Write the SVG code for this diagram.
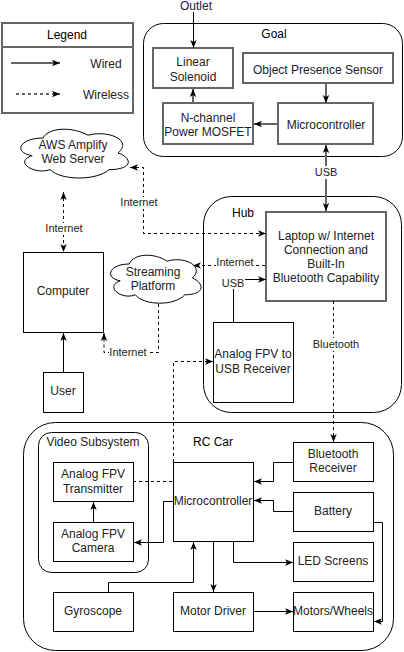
<svg xmlns="http://www.w3.org/2000/svg" width="404" height="652" viewBox="0 0 404 652">
<style>
text{font-family:"Liberation Sans",Arial,sans-serif;font-size:12px;text-anchor:middle;fill:#222}
.t{fill:#000}
.lbl{font-size:11px}
.b{fill:#fff;stroke:#000;stroke-width:1}
.g{fill:#fff;stroke:#666;stroke-width:2}
.c{fill:#fff;stroke:#000;stroke-width:1}
.w{fill:none;stroke:#000;stroke-width:1}
.wg{fill:none;stroke:#666;stroke-width:2}
.d{fill:none;stroke:#000;stroke-width:1;stroke-dasharray:3 3}
.lb{fill:#fff}
</style>
<defs>
<marker id="ah" viewBox="0 0 10 10" refX="10" refY="5" markerWidth="8" markerHeight="8" markerUnits="userSpaceOnUse" orient="auto-start-reverse">
<path d="M0,1 L10,5 L0,9 L2.5,5 z" fill="#000"/>
</marker>
</defs>

<g id="legend">
<rect x="2" y="23" width="131" height="90" class="g"/>
<line x1="2" y1="47" x2="133" y2="47" stroke="#666" stroke-width="2"/>
<text x="67" y="39" class="t">Legend</text>
<line x1="11" y1="63" x2="60" y2="63" class="wg" marker-end="url(#ah)"/>
<text x="106" y="68">Wired</text>
<line x1="16" y1="94" x2="60" y2="94" class="wg" stroke-dasharray="3 3" marker-end="url(#ah)"/>
<text x="106" y="99">Wireless</text>
</g>

<g id="goal">
<rect x="143.5" y="23.5" width="259" height="133" rx="20" class="c"/>
<text x="274" y="38" class="t">Goal</text>
</g>
<g id="linear-solenoid">
<rect x="153" y="48" width="80" height="40" class="g"/>
<text x="193" y="66">Linear</text>
<text x="193" y="81">Solenoid</text>
</g>
<g id="object-presence-sensor">
<rect x="243" y="53" width="150" height="30" class="g"/>
<text x="318" y="74">Object Presence Sensor</text>
</g>
<g id="mosfet">
<rect x="163" y="103" width="90" height="41" class="g"/>
<text x="208" y="122">N-channel</text>
<text x="208" y="136">Power MOSFET</text>
</g>
<g id="goal-microcontroller">
<rect x="278" y="103" width="95" height="41" class="g"/>
<text x="326" y="129">Microcontroller</text>
</g>
<g id="outlet">
<text x="196" y="10">Outlet</text>
</g>

<g id="hub">
<rect x="203.5" y="196.5" width="198" height="216" rx="28" class="c"/>
<text x="243" y="217" class="t">Hub</text>
</g>
<g id="laptop">
<rect x="266" y="212" width="120" height="89" class="g"/>
<text x="326" y="240">Laptop w/ Internet</text>
<text x="326" y="254">Connection and</text>
<text x="326" y="268">Built-In</text>
<text x="326" y="282">Bluetooth Capability</text>
</g>
<g id="usb-receiver">
<rect x="213.5" y="322.5" width="80" height="80" class="b"/>
<text x="253" y="358">Analog FPV to</text>
<text x="253" y="373">USB Receiver</text>
</g>

<g id="aws">
<path d="M43,138 C19,138 13,152.8 32.2,155.6 C13,161.8 34.6,175.2 50.2,169.6 C61,180.8 97,180.8 109,169.6 C133,169.6 133,158.4 118,152.8 C133,140.8 109,129.6 88,135.2 C73,126.8 49,126.8 43,138 Z" class="c"/>
<text x="73" y="149">AWS Amplify</text>
<text x="73" y="163">Web Server</text>
</g>
<g id="streaming">
<path d="M129.2,264 C109,264 104,278 120.2,280.8 C104,287 122.2,300.4 135.3,294.8 C144.4,306 174.7,306 184.8,294.8 C205,294.8 205,283.6 192.4,278 C205,266.8 184.8,255.6 167.1,261.2 C154.5,252.8 134.3,252.8 129.2,264 Z" class="c"/>
<text x="153" y="276">Streaming</text>
<text x="153" y="290">Platform</text>
</g>
<g id="computer">
<rect x="23.5" y="252.5" width="80" height="80" class="b"/>
<text x="63" y="295">Computer</text>
</g>
<g id="user">
<rect x="43.5" y="372.5" width="40" height="40" class="b"/>
<text x="63" y="395">User</text>
</g>

<g id="rc-car">
<rect x="23.5" y="422.5" width="370" height="228" rx="32" class="c"/>
<text x="213" y="446" class="t">RC Car</text>
</g>
<g id="video-subsystem">
<rect x="38.5" y="432.5" width="110" height="140" rx="13" class="c"/>
<text x="93" y="446">Video Subsystem</text>
</g>
<g id="fpv-transmitter">
<rect x="53.5" y="462.5" width="80" height="39" class="b"/>
<text x="93" y="478">Analog FPV</text>
<text x="93" y="493">Transmitter</text>
</g>
<g id="fpv-camera">
<rect x="53.5" y="522.5" width="80" height="39" class="b"/>
<text x="93" y="538">Analog FPV</text>
<text x="93" y="552">Camera</text>
</g>
<g id="rc-microcontroller">
<rect x="173.5" y="462.5" width="80" height="79" class="b"/>
<text x="213" y="505">Microcontroller</text>
</g>
<g id="gyroscope">
<rect x="53.5" y="592.5" width="80" height="39" class="b"/>
<text x="93" y="615">Gyroscope</text>
</g>
<g id="motor-driver">
<rect x="173.5" y="592.5" width="80" height="39" class="b"/>
<text x="213" y="615">Motor Driver</text>
</g>
<g id="bluetooth-receiver">
<rect x="293.5" y="442.5" width="80" height="39" class="b"/>
<text x="333" y="458">Bluetooth</text>
<text x="333" y="472">Receiver</text>
</g>
<g id="battery">
<rect x="293.5" y="492.5" width="80" height="39" class="b"/>
<text x="333" y="515">Battery</text>
</g>
<g id="led-screens">
<rect x="293.5" y="542.5" width="80" height="39" class="b"/>
<text x="333" y="565">LED Screens</text>
</g>
<g id="motors-wheels">
<rect x="293.5" y="592.5" width="80" height="39" class="b"/>
<text x="333" y="615">Motors/Wheels</text>
</g>

<g id="connectors">
<path d="M193.5,12 V48" class="w" marker-end="url(#ah)"/>
<path d="M193,103 V89" class="wg" marker-end="url(#ah)"/>
<path d="M326,84 V103" class="wg" marker-end="url(#ah)"/>
<path d="M277,124 H254" class="wg" marker-end="url(#ah)"/>
<path d="M326,211 V145" class="wg" marker-start="url(#ah)" marker-end="url(#ah)"/>
<rect x="313" y="166" width="26" height="13" class="lb"/>
<text x="326" y="176" class="lbl">USB</text>

<path d="M130,167.5 H143.5 V233.5 H266" class="d" marker-start="url(#ah)" marker-end="url(#ah)"/>
<rect x="120" y="197" width="39" height="12" class="lb"/>
<text x="139" y="206" class="lbl">Internet</text>

<path d="M63.5,192 V252" class="d" marker-start="url(#ah)" marker-end="url(#ah)"/>
<rect x="45" y="223" width="39" height="12" class="lb"/>
<text x="64" y="232" class="lbl">Internet</text>

<path d="M265,265.5 H193" class="d" marker-end="url(#ah)"/>
<rect x="216" y="257" width="39" height="12" class="lb"/>
<text x="235" y="266" class="lbl">Internet</text>

<path d="M158.5,304 V352.5 H104 V333" class="d" marker-end="url(#ah)"/>
<rect x="109" y="347" width="39" height="12" class="lb"/>
<text x="128" y="356" class="lbl">Internet</text>

<path d="M63.5,372 V333" class="w" marker-end="url(#ah)"/>

<path d="M233.5,322 V279.5 H266" class="w" marker-end="url(#ah)"/>
<rect x="222" y="277" width="23" height="12" class="lb"/>
<text x="233" y="287" class="lbl">USB</text>

<path d="M133,481.5 H173.5 V361.5 H213" class="d" marker-end="url(#ah)"/>

<path d="M333.5,301 V442" class="d" marker-end="url(#ah)"/>
<rect x="312" y="338" width="48" height="13" class="lb"/>
<text x="336" y="348" class="lbl">Bluetooth</text>

<path d="M93.5,522 V502" class="w" marker-end="url(#ah)"/>
<path d="M173,501.5 H163.5 V542.5 H134" class="w" marker-end="url(#ah)"/>
<path d="M108.5,592 V582.5 H193.5 V542" class="w" marker-end="url(#ah)"/>
<path d="M213.5,542 V592" class="w" marker-end="url(#ah)"/>
<path d="M233.5,542 V562.5 H293" class="w" marker-end="url(#ah)"/>
<path d="M254,611.5 H293" class="w" marker-end="url(#ah)"/>
<path d="M293,462.5 H273.5 V481.5 H254" class="w" marker-end="url(#ah)"/>
<path d="M293,511.5 H273.5 V500.5 H254" class="w" marker-end="url(#ah)"/>
<path d="M374,522.5 H382.5 V621.5 H374" class="w" marker-end="url(#ah)"/>
</g>
</svg>
